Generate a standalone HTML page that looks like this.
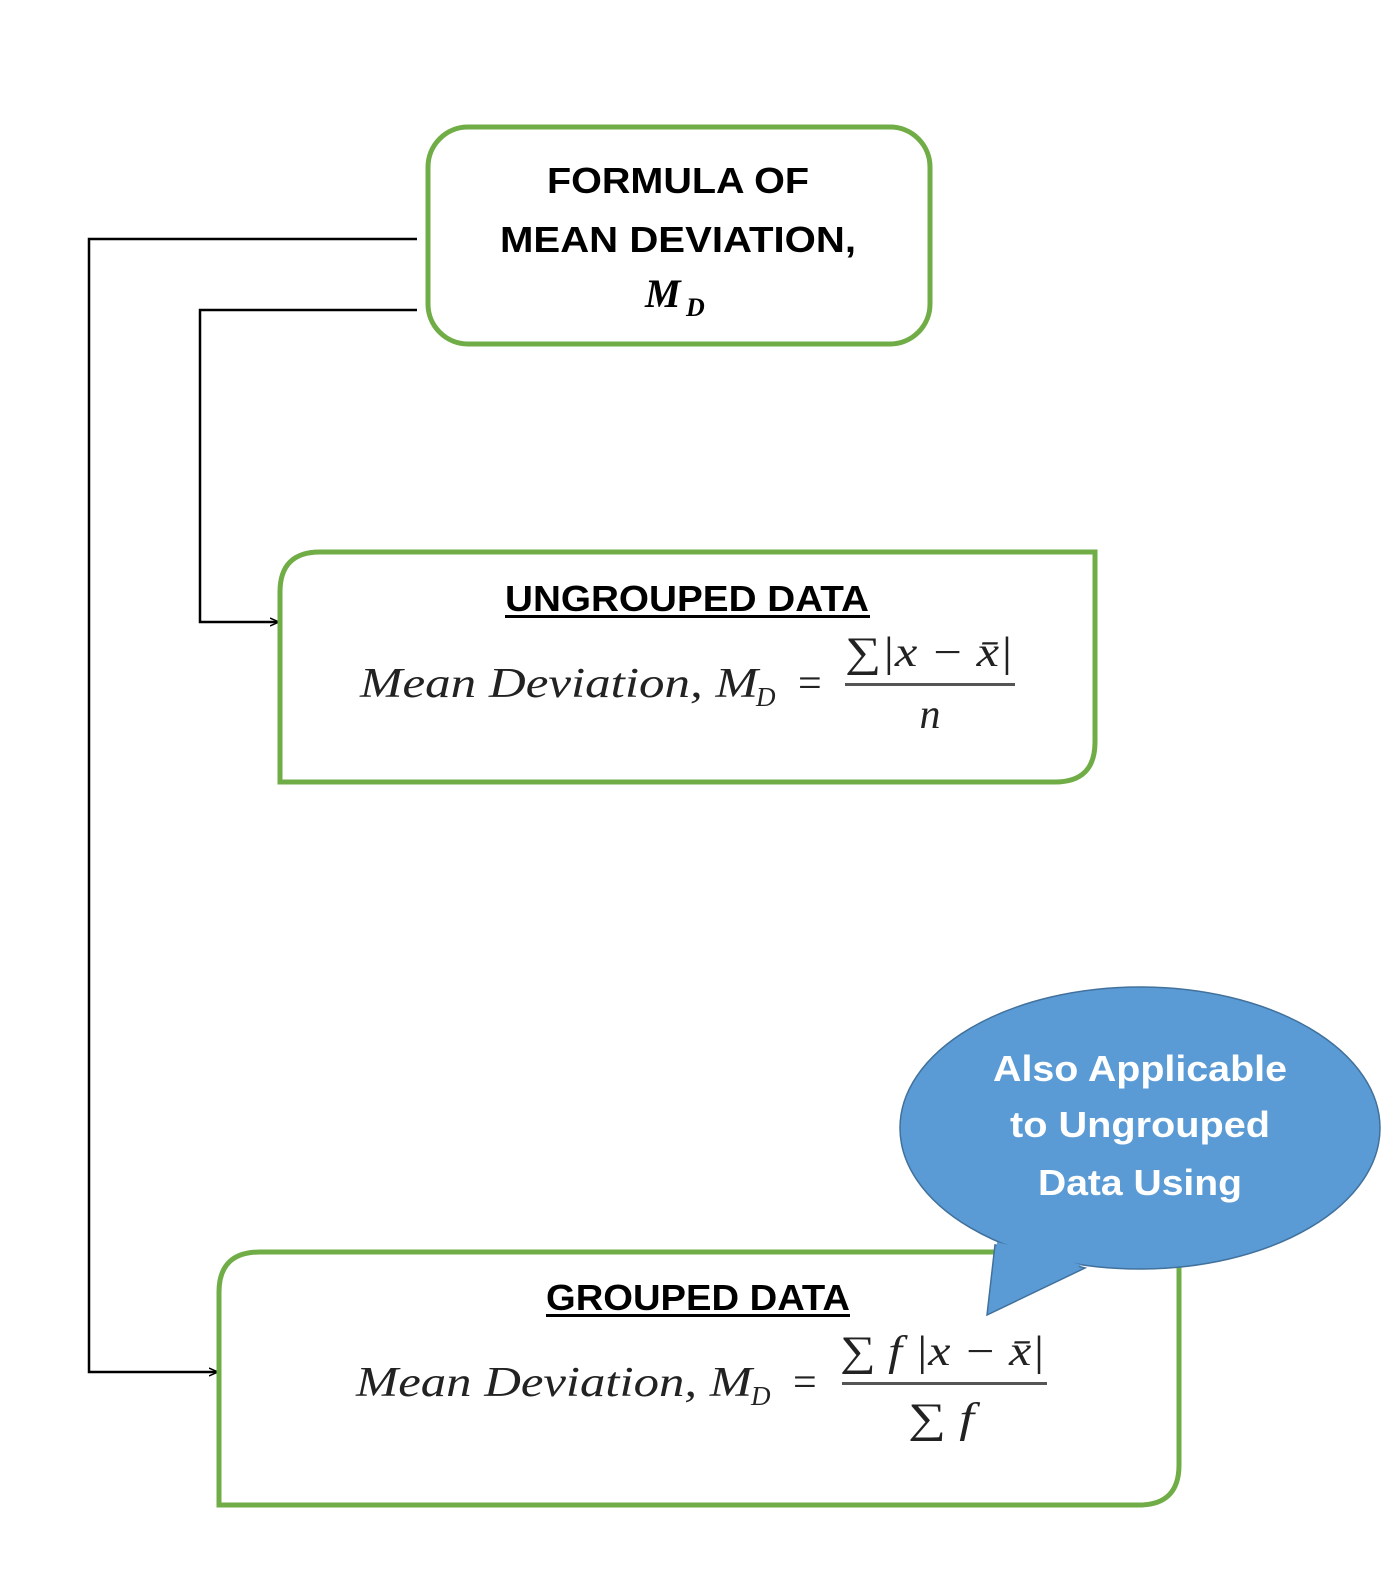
<!DOCTYPE html>
<html><head><meta charset="utf-8"><style>
html,body{margin:0;padding:0;background:#fff;}
svg{display:block;}
.h{font-family:"Liberation Sans",sans-serif;font-weight:bold;font-size:36px;fill:#000;}
.m{font-family:"Liberation Serif",serif;font-style:italic;font-size:42px;fill:#222;}
.c{font-family:"Liberation Sans",sans-serif;font-weight:bold;font-size:36px;fill:#fff;}
</style></head><body>
<svg width="1400" height="1570" viewBox="0 0 1400 1570" xmlns="http://www.w3.org/2000/svg">
<defs><marker id="a" markerWidth="10" markerHeight="10" refX="9" refY="5" orient="auto" markerUnits="userSpaceOnUse"><path d="M0,1 L9,5 L0,9" fill="none" stroke="#000" stroke-width="1.5"/></marker></defs>
<polyline points="417,239 89,239 89,1372 218,1372" fill="none" stroke="#000" stroke-width="2.5" marker-end="url(#a)"/>
<polyline points="417,310 200,310 200,622 279,622" fill="none" stroke="#000" stroke-width="2.5" marker-end="url(#a)"/>
<rect x="428" y="127" width="502" height="217" rx="40" fill="#fff" stroke="#70ad47" stroke-width="5"/>
<text class="h" x="678" y="193" text-anchor="middle" textLength="262" lengthAdjust="spacingAndGlyphs">FORMULA OF</text>
<text class="h" x="678" y="252" text-anchor="middle" textLength="356" lengthAdjust="spacingAndGlyphs">MEAN DEVIATION,</text>
<text x="645" y="307" font-family="Liberation Serif,serif" font-style="italic" font-weight="bold" font-size="40">M</text>
<text x="686" y="316" font-family="Liberation Serif,serif" font-style="italic" font-weight="bold" font-size="26">D</text>
<path d="M320,552 H1095 V742 Q1095,782 1055,782 H280 V592 Q280,552 320,552 Z" fill="#fff" stroke="#70ad47" stroke-width="5"/>
<text class="h" x="687" y="611" text-anchor="middle" textLength="364" lengthAdjust="spacingAndGlyphs">UNGROUPED DATA</text>
<rect x="505" y="615" width="365" height="3" fill="#000"/>
<text class="m" x="360" y="697" textLength="398" lengthAdjust="spacingAndGlyphs">Mean Deviation, M</text>
<text class="m" x="756" y="706" style="font-size:27px">D</text>
<text class="m" x="798" y="697" style="font-style:normal;font-size:42px">=</text>
<text class="m" x="845" y="666" textLength="168" lengthAdjust="spacingAndGlyphs">∑|x − x̄|</text>
<rect x="845" y="683" width="170" height="3" fill="#555"/>
<text class="m" x="930" y="728" text-anchor="middle">n</text>
<path d="M260,1252 H1179 V1465 Q1179,1505 1139,1505 H219 V1292 Q219,1252 260,1252 Z" fill="#fff" stroke="#70ad47" stroke-width="5"/>
<text class="h" x="698" y="1310" text-anchor="middle" textLength="304" lengthAdjust="spacingAndGlyphs">GROUPED DATA</text>
<rect x="546" y="1314" width="304" height="3" fill="#000"/>
<text class="m" x="356" y="1396" textLength="396" lengthAdjust="spacingAndGlyphs">Mean Deviation, M</text>
<text class="m" x="751" y="1405" style="font-size:27px">D</text>
<text class="m" x="793" y="1396" style="font-style:normal;font-size:42px">=</text>
<text class="m" x="840" y="1365" textLength="205" lengthAdjust="spacingAndGlyphs">∑ f |x − x̄|</text>
<rect x="842" y="1382" width="205" height="3" fill="#555"/>
<text class="m" x="908" y="1432" textLength="66" lengthAdjust="spacingAndGlyphs">∑ f</text>
<path d="M995,1245 L987,1315 L1085,1268 Z" fill="#5b9bd5" stroke="#41719c" stroke-width="1.5"/>
<ellipse cx="1140" cy="1128" rx="240" ry="141" fill="#5b9bd5" stroke="#41719c" stroke-width="1.5"/>
<path d="M997,1242 L990,1310 L1082,1265 Z" fill="#5b9bd5"/>
<text class="c" x="1140" y="1081" text-anchor="middle" textLength="294" lengthAdjust="spacingAndGlyphs">Also Applicable</text>
<text class="c" x="1140" y="1137" text-anchor="middle" textLength="260" lengthAdjust="spacingAndGlyphs">to Ungrouped</text>
<text class="c" x="1140" y="1195" text-anchor="middle" textLength="204" lengthAdjust="spacingAndGlyphs">Data Using</text>
</svg>
</body></html>
